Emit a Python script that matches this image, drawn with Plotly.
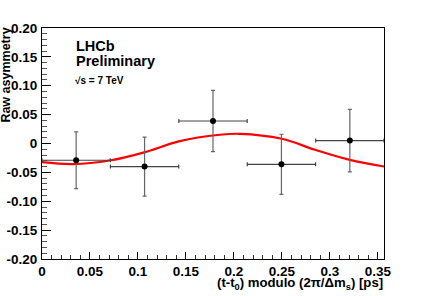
import plotly.graph_objects as go

# measured points
t_bins = [0.0356, 0.1069, 0.1782, 0.2495, 0.3208]
asym = [-0.029, -0.040, 0.039, -0.036, 0.005]
asym_err = [0.049, 0.051, 0.053, 0.052, 0.054]
t_halfwidth = [0.0356, 0.0356, 0.0356, 0.0356, 0.0356]

# fitted curve
fit_t = [0.0, 0.032, 0.0706, 0.1074, 0.1436, 0.1853, 0.206, 0.2499, 0.2847, 0.3208, 0.3564]
fit_asym = [-0.0323, -0.0357, -0.0295, -0.0149, 0.0042, 0.0151, 0.0168, 0.0082, -0.0109, -0.0283, -0.0399]

x_tickvals = [0, 0.05, 0.1, 0.15, 0.2, 0.25, 0.3, 0.35]
x_ticktext = ["0", "0.05", "0.1", "0.15", "0.2", "0.25", "0.3", "0.35"]
y_tickvals = [-0.2, -0.15, -0.1, -0.05, 0, 0.05, 0.1, 0.15, 0.2]
y_ticktext = ["-0.20", "-0.15", "-0.10", "-0.05", "0", "0.05", "0.10", "0.15", "0.20"]

FONT = "Liberation Sans, Arial, sans-serif"

fig = go.Figure()
fig.add_trace(go.Scatter(
    x=fit_t, y=fit_asym, mode="lines",
    line=dict(color="#ff0000", width=2.2, shape="spline", smoothing=1.0),
    hoverinfo="skip", showlegend=False,
))
fig.add_trace(go.Scatter(
    x=t_bins, y=asym, mode="markers",
    marker=dict(color="black", size=6),
    error_y=dict(type="data", array=asym_err, color="#666666", thickness=1.2, width=2),
    error_x=dict(type="data", array=t_halfwidth, color="#444444", thickness=1.2, width=2),
    showlegend=False,
))

fig.update_layout(
    width=427, height=296,
    margin=dict(l=42, r=43, t=28, b=37, autoexpand=False),
    paper_bgcolor="white", plot_bgcolor="white",
    font=dict(family=FONT, size=13, color="black", weight="bold"),
    xaxis=dict(
        range=[0, 0.3564], showgrid=False, zeroline=False, automargin=False,
        showline=True, linecolor="black", linewidth=1, mirror=True,
        ticks="inside", ticklen=7, tickcolor="black", tickwidth=1,
        tickvals=x_tickvals, ticktext=x_ticktext,
        tickfont=dict(family=FONT, size=13.5, weight="bold"),
        minor=dict(ticks="inside", ticklen=4, dtick=0.01, tick0=0, tickcolor="#333333", showgrid=False),
    ),
    yaxis=dict(
        range=[-0.2, 0.2], showgrid=False, zeroline=False, automargin=False,
        showline=True, linecolor="black", linewidth=1, mirror=True,
        ticks="inside", ticklen=9, tickcolor="black", tickwidth=1,
        tickvals=y_tickvals, ticktext=y_ticktext, ticklabelstandoff=1,
        tickfont=dict(family=FONT, size=13.5, weight="bold"),
        minor=dict(ticks="inside", ticklen=5, dtick=0.01, tick0=0, tickcolor="#555555", showgrid=False),
    ),
    annotations=[
        dict(text="LHCb", xref="paper", yref="paper", x=0.095, y=0.92,
             xanchor="left", yanchor="middle", showarrow=False,
             font=dict(family=FONT, size=14.5, weight="bold")),
        dict(text="Preliminary", xref="paper", yref="paper", x=0.095, y=0.856,
             xanchor="left", yanchor="middle", showarrow=False,
             font=dict(family=FONT, size=14.5, weight="bold")),
        dict(text="√s = 7 TeV", xref="paper", yref="paper", x=0.09, y=0.774,
             xanchor="left", yanchor="middle", showarrow=False,
             font=dict(family=FONT, size=10, weight="bold")),
        dict(text="(t-t<sub>0</sub>) modulo (2π/Δm<sub>s</sub>) [ps]", xref="paper", yref="paper",
             x=1.003, y=-0.107, xanchor="right", yanchor="middle", showarrow=False,
             font=dict(family=FONT, size=13.2, weight="bold")),
        dict(text="Raw asymmetry", xref="paper", yref="paper", x=-0.1045, y=1.005,
             xanchor="center", yanchor="top", textangle=-90, showarrow=False, borderpad=0,
             font=dict(family=FONT, size=12.5, weight="bold")),
    ],
)

fig.write_html("out.html", config={"displayModeBar": False},
               post_script="document.body.style.margin='0';document.body.style.overflow='hidden';")
